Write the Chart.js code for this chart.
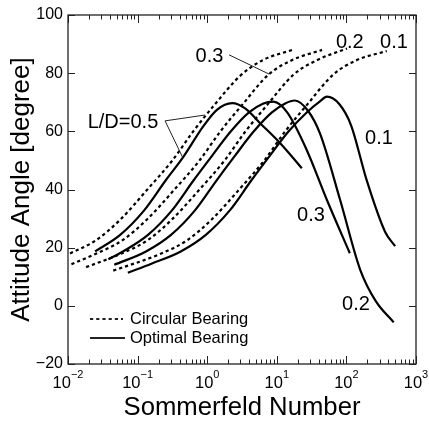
<!DOCTYPE html>
<html>
<head>
<meta charset="utf-8">
<script src="https://cdn.jsdelivr.net/npm/chart.js@4.4.1/dist/chart.umd.min.js"></script>
<style>
  html, body { margin: 0; padding: 0; background: #fff; }
  #wrap { width: 429px; height: 423px; }
</style>
</head>
<body>
<div id="wrap"><canvas id="angleChart" width="429" height="423"></canvas></div>
<script>
// Sommerfeld number (x) and attitude angle in degrees (y)
// circular bearing (dotted)
const circ05S = [0.0107, 0.0251, 0.0562, 0.138, 0.316, 0.631, 1.26, 2.95, 6.31, 16.6];
const circ05A = [18, 22.5, 29.6, 40, 50, 60, 69, 79, 84.5, 88];
const circ03S = [0.0112, 0.0257, 0.0603, 0.135, 0.339, 0.776, 1.55, 3.16, 7.59, 16.6, 44.7];
const circ03A = [14.3, 18, 22.5, 29.6, 40, 50, 60, 69, 79.5, 84.5, 88];
const circ02S = [0.0182, 0.0589, 0.138, 0.309, 0.776, 1.78, 3.55, 7.24, 17.4, 38.0, 102];
const circ02A = [13.3, 18, 22.5, 29.6, 40, 50, 60, 69, 79.5, 84.5, 88.5];
const circ01S = [0.0447, 0.219, 0.513, 1.15, 2.88, 6.61, 13.2, 26.9, 64.6, 141, 380];
const circ01A = [12.1, 18, 22.5, 29.6, 40, 50, 60, 69, 79.5, 84.5, 87.6];

// optimal bearing (solid)
const opt05S = [0.0245, 0.0562, 0.126, 0.251, 0.457, 0.871, 1.38, 2.29, 3.55, 5.75, 11.2, 22.9];
const opt05A = [18.7, 24.4, 33, 43, 51.3, 61.6, 67.4, 69.7, 67.8, 62.8, 55.9, 47.3];
const opt03S = [0.038, 0.0617, 0.141, 0.316, 0.631, 1.15, 2.19, 3.98, 6.31, 8.91, 14.1, 26.9, 52.5, 112];
const opt03A = [16, 18.7, 24.4, 33, 43, 51.3, 60, 66.5, 69.5, 70.2, 66.5, 53.6, 36.4, 18.1];
const opt02S = [0.0462, 0.132, 0.302, 0.676, 1.35, 2.45, 4.68, 8.51, 13.2, 18.2, 28.2, 41.7, 81.3, 158, 263, 479];
const opt02A = [14.1, 18.7, 24.4, 33, 43, 51.3, 60, 66.5, 69.6, 70.6, 67, 59.3, 36.4, 12.4, 1.7, -5.7];
const opt01S = [0.0724, 0.158, 0.417, 0.955, 2.14, 4.27, 7.76, 14.8, 26.9, 41.7, 52.5, 79.4, 117, 195, 359, 501];
const opt01A = [11.4, 14.5, 18.7, 24.4, 33, 43, 51.3, 60, 66.5, 70.3, 71.9, 69.3, 62, 43.3, 25.5, 20.5];

const yTicks = [-20, 0, 20, 40, 60, 80, 100];
const xDecades = [-2, -1, 0, 1, 2, 3];

// curve labels: text, Sommerfeld number, angle
const curveLabels = [
  ['0.3', 1.08, 85.6],
  ['0.2', 112, 90.7],
  ['0.1', 483, 90.7],
  ['L/D=0.5', 0.0616, 63.1],
  ['0.1', 294, 57.4],
  ['0.3', 31, 31.1],
  ['0.2', 137, 0.3]
];
// leader lines: from [S, angle] to [S, angle]
const leaders = [
  [[2.06, 86.3], [7.73, 79.7]],
  [[0.248, 63.6], [0.929, 65.6]],
  [[0.248, 63.6], [0.449, 50.8]]
];

const FONT = "'Liberation Sans', Arial, Helvetica, sans-serif";
Chart.defaults.font.family = FONT;
Chart.defaults.color = '#000';

function pts(xs, ys) {
  return xs.map((v, i) => ({ x: v, y: ys[i] }));
}

function curve(xs, ys, dotted) {
  return {
    data: pts(xs, ys),
    showLine: true,
    borderColor: '#000',
    borderWidth: 2.2,
    borderDash: dotted ? [3.2, 3] : [],
    pointRadius: 0,
    cubicInterpolationMode: 'monotone',
    fill: false
  };
}

const axisDecor = {
  id: 'axisDecor',
  afterDraw(chart) {
    const { ctx, chartArea: a, scales: { x, y } } = chart;
    ctx.save();

    // ticks, pointing inward
    ctx.strokeStyle = '#222';
    ctx.lineWidth = 1;
    ctx.beginPath();
    xDecades.forEach(k => {
      for (let m = 1; m <= 9; m++) {
        if (k === 3 && m > 1) break;
        const px = Math.round(x.getPixelForValue(m * Math.pow(10, k))) + 0.5;
        const len = m === 1 ? 8 : 4.5;
        ctx.moveTo(px, a.bottom); ctx.lineTo(px, a.bottom - len);
        ctx.moveTo(px, a.top); ctx.lineTo(px, a.top + len);
      }
    });
    yTicks.forEach(v => {
      const py = Math.round(y.getPixelForValue(v)) + 0.5;
      ctx.moveTo(a.left, py); ctx.lineTo(a.left + 7, py);
      ctx.moveTo(a.right, py); ctx.lineTo(a.right - 7, py);
    });
    ctx.stroke();

    // frame
    ctx.lineWidth = 1.3;
    ctx.strokeRect(a.left, a.top, a.right - a.left, a.bottom - a.top);

    // x tick labels 10^k
    ctx.fillStyle = '#000';
    ctx.textBaseline = 'alphabetic';
    xDecades.forEach(k => {
      const px = x.getPixelForValue(Math.pow(10, k));
      const exp = k < 0 ? '\u2212' + (-k) : String(k);
      ctx.font = '16.5px ' + FONT;
      const wb = ctx.measureText('10').width;
      ctx.font = '11px ' + FONT;
      const we = ctx.measureText(exp).width;
      const x0 = px - (wb + we) / 2;
      ctx.font = '16.5px ' + FONT;
      ctx.textAlign = 'left';
      ctx.fillText('10', x0, a.bottom + 24);
      ctx.font = '11px ' + FONT;
      ctx.fillText(exp, x0 + wb, a.bottom + 14);
    });

    // curve labels and leader lines
    ctx.font = '20px ' + FONT;
    ctx.textAlign = 'center';
    ctx.textBaseline = 'middle';
    curveLabels.forEach(([t, s, v]) => {
      ctx.fillText(t, x.getPixelForValue(s), y.getPixelForValue(v));
    });
    ctx.lineWidth = 1;
    ctx.beginPath();
    leaders.forEach(([p, q]) => {
      ctx.moveTo(x.getPixelForValue(p[0]), y.getPixelForValue(p[1]));
      ctx.lineTo(x.getPixelForValue(q[0]), y.getPixelForValue(q[1]));
    });
    ctx.stroke();

    // legend
    const lx = a.left + 22, ly1 = a.bottom - 45, ly2 = a.bottom - 26;
    ctx.lineWidth = 2.2;
    ctx.beginPath();
    ctx.setLineDash([3.2, 3]);
    ctx.moveTo(lx, ly1); ctx.lineTo(lx + 33, ly1);
    ctx.stroke();
    ctx.beginPath();
    ctx.setLineDash([]);
    ctx.moveTo(lx, ly2); ctx.lineTo(lx + 35, ly2);
    ctx.stroke();
    ctx.font = '16.5px ' + FONT;
    ctx.textAlign = 'left';
    ctx.fillText('Circular Bearing', lx + 40, ly1);
    ctx.fillText('Optimal Bearing', lx + 40, ly2);

    ctx.restore();
  }
};

new Chart(document.getElementById('angleChart'), {
  type: 'scatter',
  data: {
    datasets: [
      curve(circ05S, circ05A, true),
      curve(circ03S, circ03A, true),
      curve(circ02S, circ02A, true),
      curve(circ01S, circ01A, true),
      curve(opt05S, opt05A, false),
      curve(opt03S, opt03A, false),
      curve(opt02S, opt02A, false),
      curve(opt01S, opt01A, false)
    ]
  },
  options: {
    responsive: false,
    animation: false,
    devicePixelRatio: 1,
    layout: { padding: { top: 15, right: 13, left: 0, bottom: 0 } },
    plugins: { legend: { display: false }, tooltip: { enabled: false } },
    scales: {
      x: {
        type: 'logarithmic',
        min: 0.01,
        max: 1000,
        grid: { display: false, drawTicks: false },
        border: { display: false },
        ticks: { display: false },
        title: {
          display: true,
          text: 'Sommerfeld Number',
          font: { size: 25.7 },
          color: '#000',
          padding: { top: 0, bottom: 0 }
        },
        afterFit(scale) { scale.height = 59; }
      },
      y: {
        min: -20,
        max: 100,
        grid: { display: false, drawTicks: false },
        border: { display: false },
        ticks: {
          stepSize: 20,
          font: { size: 16 },
          color: '#000',
          padding: 5,
          callback: v => (v < 0 ? '\u2212' + (-v) : String(v))
        },
        title: {
          display: true,
          text: 'Attitude Angle [degree]',
          font: { size: 26 },
          color: '#000',
          padding: { top: 6, bottom: 0 }
        },
        afterFit(scale) { scale.width = 68; }
      }
    }
  },
  plugins: [axisDecor]
});
</script>
</body>
</html>
